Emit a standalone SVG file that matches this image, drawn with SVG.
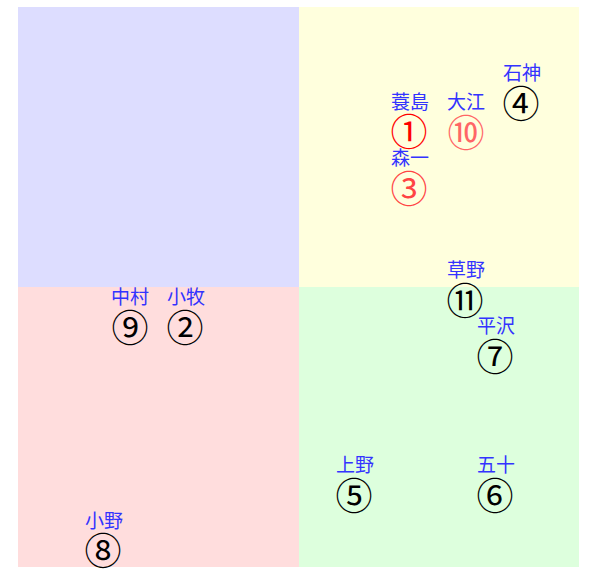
<svg xmlns="http://www.w3.org/2000/svg" width="597" height="569" viewBox="0 0 597 569">
<style>
.lbl{font-family:"Noto Sans CJK JP",sans-serif;font-size:19px;fill:#3333ff;text-anchor:middle;dominant-baseline:central}
.num{font-family:"Noto Sans CJK JP",sans-serif;font-size:37px;fill:#000;text-anchor:middle;dominant-baseline:central}
</style>
<rect width="597" height="569" fill="#fff"/>
<g id="regions">
<rect x="18" y="7" width="281" height="280" fill="#ddddff"/>
<rect x="299" y="7" width="280" height="280" fill="#ffffdd"/>
<rect x="18" y="287" width="281" height="280" fill="#ffdddd"/>
<rect x="299" y="287" width="280" height="280" fill="#ddffdd"/>
</g>
<g id="connectors"></g>
<g id="n1"><text class="lbl" x="410" y="100">蓑島</text><text class="num" x="409" y="130" style="fill:#ff0000">①</text></g>
<g id="n10"><text class="lbl" x="466" y="100">大江</text><text class="num" x="466" y="131" style="fill:#ff6666">⑩</text></g>
<g id="n4"><text class="lbl" x="522" y="71">石神</text><text class="num" x="521" y="102">④</text></g>
<g id="n3"><text class="lbl" x="410" y="156">森一</text><text class="num" x="409" y="187" style="fill:#ff4444">③</text></g>
<g id="n11"><text class="lbl" x="466" y="268">草野</text><text class="num" x="465" y="299">⑪</text></g>
<g id="n7"><text class="lbl" x="496" y="324">平沢</text><text class="num" x="495" y="355">⑦</text></g>
<g id="n5"><text class="lbl" x="355" y="463">上野</text><text class="num" x="354" y="494">⑤</text></g>
<g id="n6"><text class="lbl" x="496" y="463">五十</text><text class="num" x="495" y="494">⑥</text></g>
<g id="n9"><text class="lbl" x="130" y="295">中村</text><text class="num" x="130" y="326">⑨</text></g>
<g id="n2"><text class="lbl" x="186" y="295">小牧</text><text class="num" x="185" y="326">②</text></g>
<g id="n8"><text class="lbl" x="104" y="519">小野</text><text class="num" x="103" y="549">⑧</text></g>
</svg>
